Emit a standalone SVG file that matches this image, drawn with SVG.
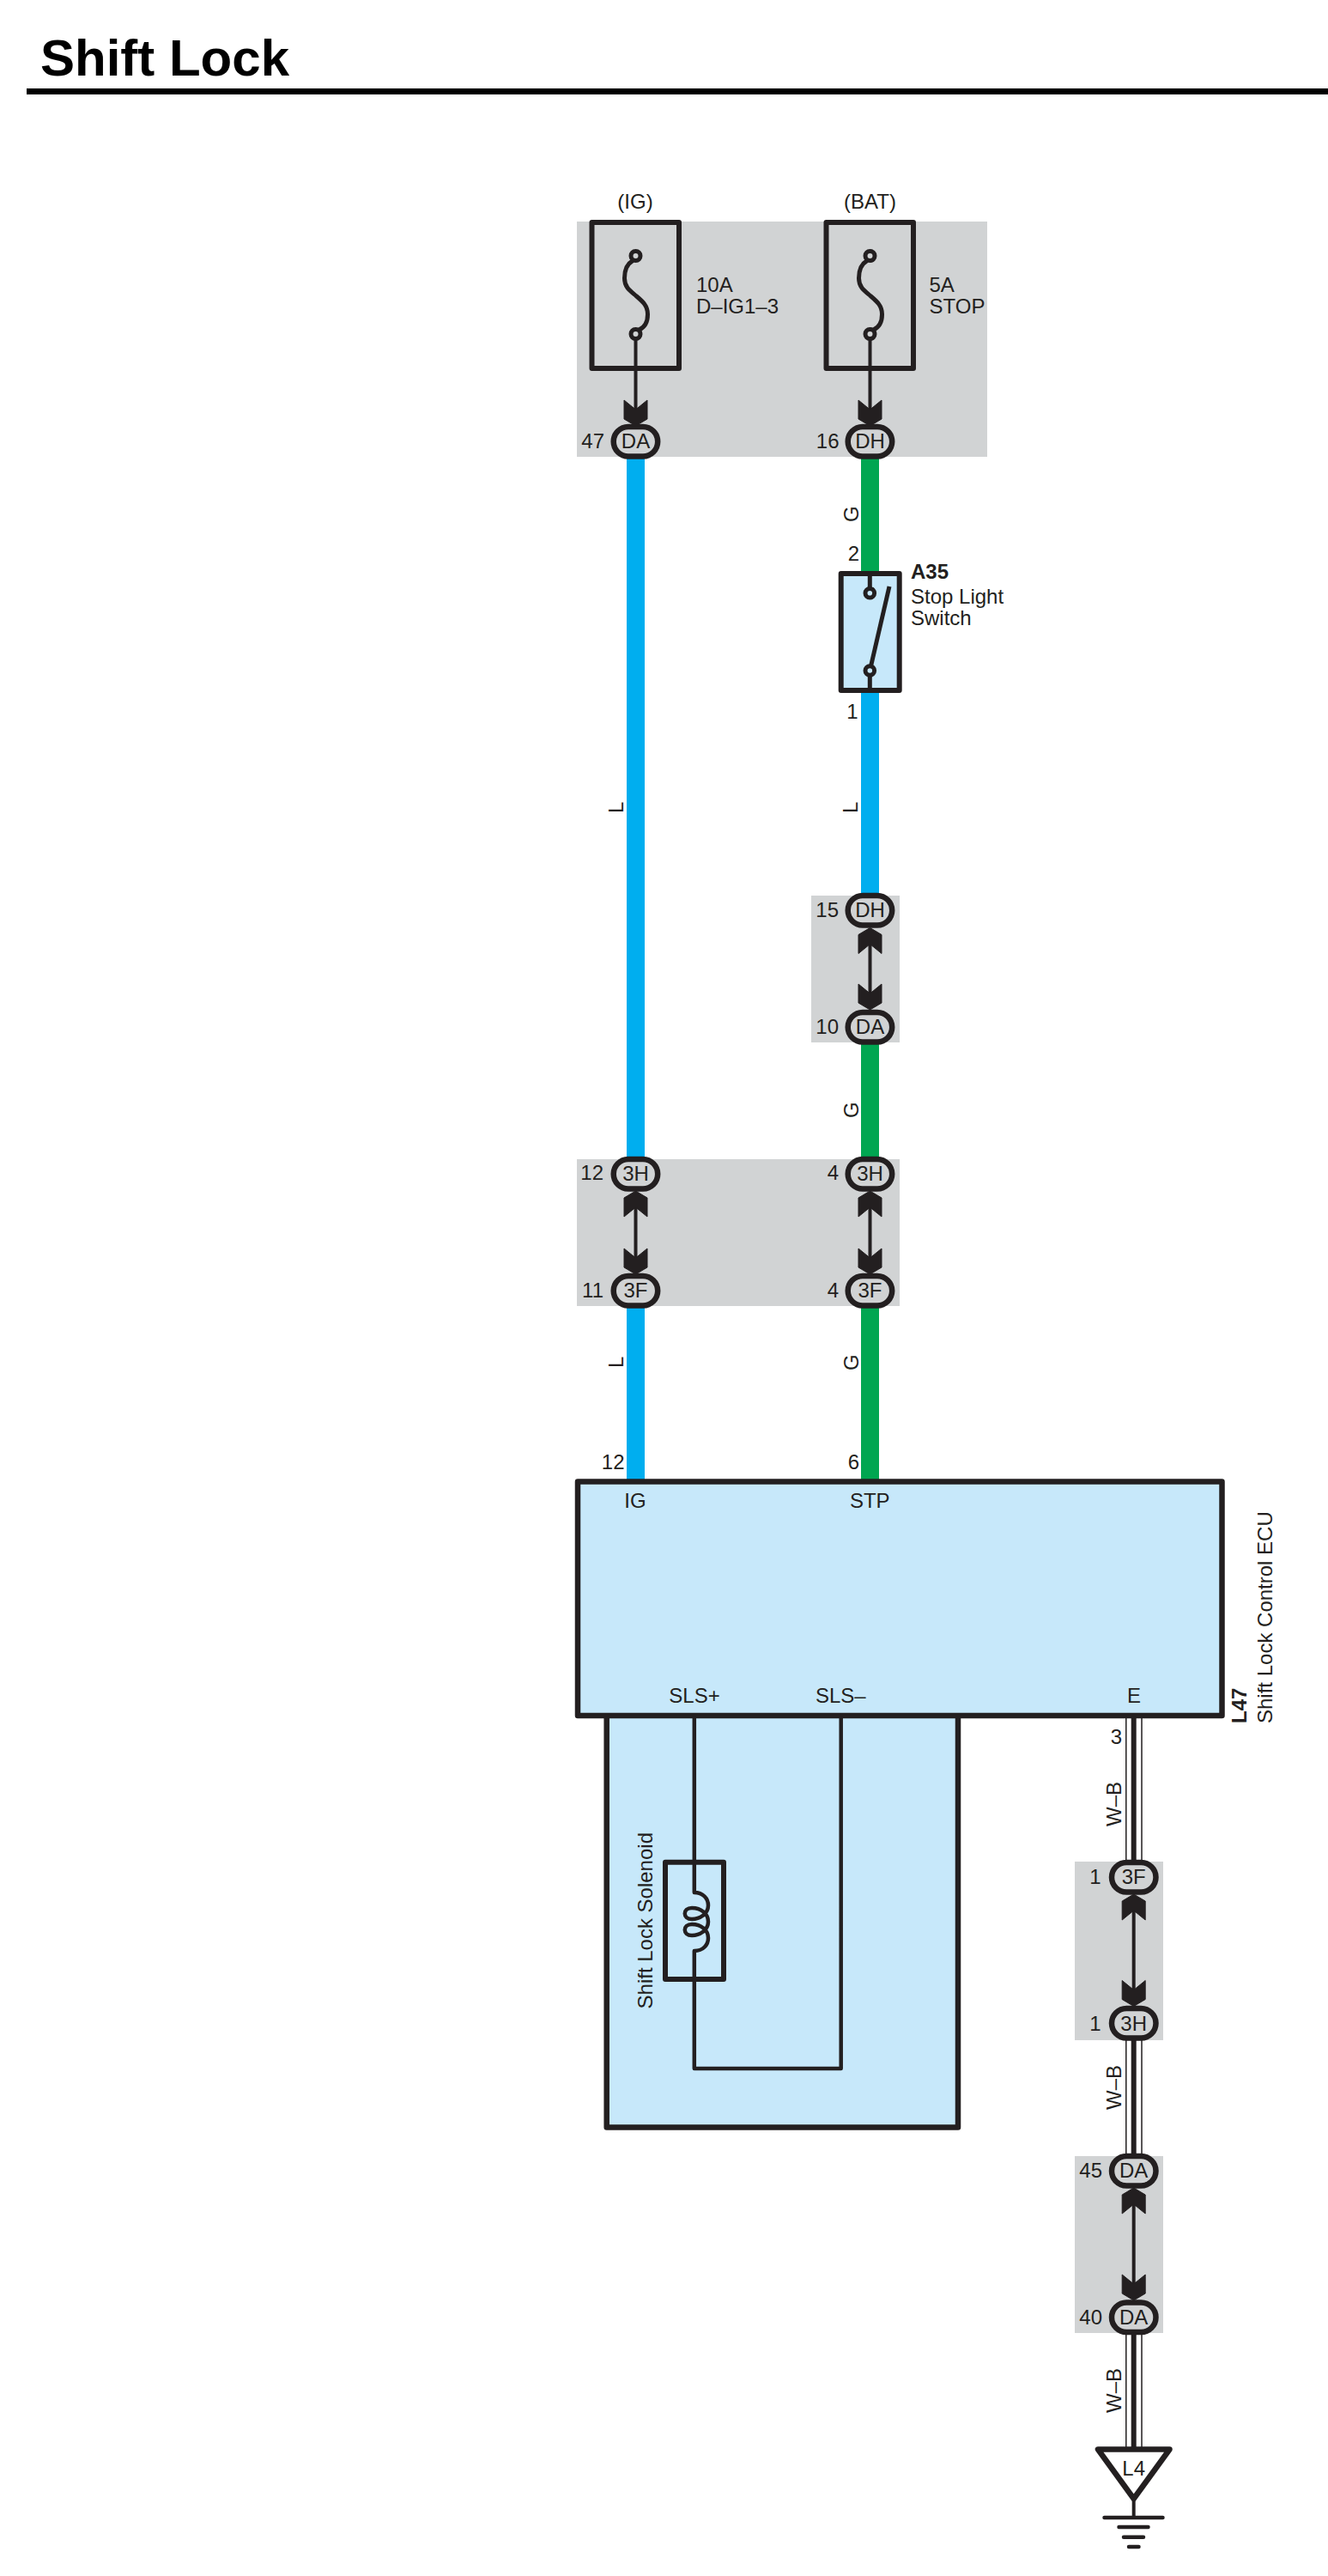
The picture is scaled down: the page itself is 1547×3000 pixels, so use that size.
<svg xmlns="http://www.w3.org/2000/svg" xmlns:xlink="http://www.w3.org/1999/xlink" width="1547" height="3000" viewBox="0 0 1547 3000">
<style>
text{font-family:"Liberation Sans",Arial,sans-serif;font-size:24px;fill:#231f20}
.m{text-anchor:middle}.e{text-anchor:end}.b{font-weight:bold}
.panel{fill:#d1d3d4}
.box{fill:none;stroke:#231f20;stroke-width:6;stroke-linejoin:round}
.lb{fill:#c7e8fa;stroke:#231f20;stroke-width:6.5;stroke-linejoin:round}
.pin{fill:#d1d3d4;stroke:#231f20;stroke-width:6.5}
.thin{fill:none;stroke:#231f20;stroke-width:4}
.mid{fill:none;stroke:#231f20;stroke-width:5;stroke-linejoin:round;stroke-linecap:round}
.L{stroke:#00aeef;stroke-width:21;fill:none}
.G{stroke:#00a651;stroke-width:21;fill:none}
.wb1{stroke:#231f20;stroke-width:1.5;fill:none}
.wb2{stroke:#231f20;stroke-width:6;fill:none}
.arw{fill:#231f20;stroke:#231f20;stroke-width:1;stroke-linejoin:round}
</style>
<defs>
<path id="ad" class="arw" d="M0,0 L-13.5,-8 L-13.5,-30 L0,-19 L13.5,-30 L13.5,-8 Z"/>
<path id="au" class="arw" d="M0,0 L-13.5,8 L-13.5,30 L0,19 L13.5,30 L13.5,8 Z"/>
<g id="fuse">
<path class="mid" d="M-4,6 C-11,10 -13,18 -13,26 C-13,37 -6,41 1,47 C8,53 14,58 14,68 C14,76 11,83 4,86"/>
<circle class="mid" cx="0" cy="0" r="5.5" style="fill:#d1d3d4"/>
<circle class="mid" cx="0" cy="91" r="5.5" style="fill:#d1d3d4"/>
</g>
</defs>
<rect width="1547" height="3000" fill="#fff"/>

<g id="title">
<text x="47" y="88" class="b" style="font-size:60px;fill:#000">Shift Lock</text>
<rect x="31" y="103" width="1516" height="7" fill="#000"/>
</g>

<g id="panels">
<rect class="panel" x="672" y="258" width="478" height="274"/>
<rect class="panel" x="945" y="1043" width="103" height="171"/>
<rect class="panel" x="672" y="1350" width="376" height="171"/>
<rect class="panel" x="1252" y="2168" width="103" height="208"/>
<rect class="panel" x="1252" y="2511" width="103" height="206"/>
</g>

<g id="connectors">
<path class="L" d="M740.5,514 V1367 M740.5,1503 V1726"/>
<path class="G" d="M1013.5,514 V668 M1013.5,1196 V1367 M1013.5,1503 V1726"/>
<path class="L" d="M1013.5,804 V1060"/>
<path class="thin" d="M740.5,389 V480 M1013.5,389 V480 M740.5,1395 V1475 M1013.5,1395 V1475 M1013.5,1088 V1168 M1320.7,2214 V2328 M1320.7,2556 V2670"/>
<path class="wb1" d="M1311.8,2001 V2168 M1330,2001 V2168 M1311.8,2376 V2510 M1330,2376 V2510 M1311.8,2717 V2850 M1330,2717 V2850"/>
<path class="wb2" d="M1320.7,2001 V2168 M1320.7,2376 V2510 M1320.7,2717 V2850"/>
<use xlink:href="#ad" href="#ad" x="740.5" y="496"/>
<use xlink:href="#ad" href="#ad" x="1013.5" y="496"/>
<use xlink:href="#au" href="#au" x="1013.5" y="1080.5"/>
<use xlink:href="#ad" href="#ad" x="1013.5" y="1176"/>
<use xlink:href="#au" href="#au" x="740.5" y="1387"/>
<use xlink:href="#ad" href="#ad" x="740.5" y="1484"/>
<use xlink:href="#au" href="#au" x="1013.5" y="1387"/>
<use xlink:href="#ad" href="#ad" x="1013.5" y="1484"/>
<use xlink:href="#au" href="#au" x="1320.7" y="2206"/>
<use xlink:href="#ad" href="#ad" x="1320.7" y="2336.5"/>
<use xlink:href="#au" href="#au" x="1320.7" y="2548"/>
<use xlink:href="#ad" href="#ad" x="1320.7" y="2679"/>
</g>

<g id="fuse-ig">
<text x="740" y="243" class="m">(IG)</text>
<rect class="box" x="689.5" y="259" width="101.5" height="170"/>
<use xlink:href="#fuse" href="#fuse" x="740.5" y="298"/>
<text x="811" y="340">10A</text>
<text x="811" y="365">D–IG1–3</text>
</g>
<g id="fuse-bat">
<text x="1013.5" y="243" class="m">(BAT)</text>
<rect class="box" x="962.5" y="259" width="101.5" height="170"/>
<use xlink:href="#fuse" href="#fuse" x="1013.5" y="298"/>
<text x="1082.5" y="340">5A</text>
<text x="1082.5" y="365">STOP</text>
</g>

<g id="conn-47-DA"><text x="704" y="522" class="e">47</text><rect class="pin" x="714.7" y="497" width="51.5" height="34.5" rx="17.25"/><text x="740.5" y="522" class="m">DA</text></g>
<g id="conn-16-DH"><text x="977.5" y="522" class="e">16</text><rect class="pin" x="987.7" y="497" width="51.5" height="34.5" rx="17.25"/><text x="1013.5" y="522" class="m">DH</text></g>
<g id="conn-15-DH"><text x="977" y="1067.5" class="e">15</text><rect class="pin" x="987.7" y="1043" width="51.5" height="34.5" rx="17.25"/><text x="1013.5" y="1068" class="m">DH</text></g>
<g id="conn-10-DA"><text x="977" y="1203.5" class="e">10</text><rect class="pin" x="987.7" y="1179" width="51.5" height="34.5" rx="17.25"/><text x="1013.5" y="1204" class="m">DA</text></g>
<g id="conn-12-3H"><text x="703" y="1374" class="e">12</text><rect class="pin" x="714.7" y="1350" width="51.5" height="34.5" rx="17.25"/><text x="740.5" y="1375" class="m">3H</text></g>
<g id="conn-11-3F"><text x="703" y="1511" class="e">11</text><rect class="pin" x="714.7" y="1486" width="51.5" height="34.5" rx="17.25"/><text x="740.5" y="1511" class="m">3F</text></g>
<g id="conn-4-3H"><text x="977" y="1374" class="e">4</text><rect class="pin" x="987.7" y="1350" width="51.5" height="34.5" rx="17.25"/><text x="1013.5" y="1375" class="m">3H</text></g>
<g id="conn-4-3F"><text x="977" y="1511" class="e">4</text><rect class="pin" x="987.7" y="1486" width="51.5" height="34.5" rx="17.25"/><text x="1013.5" y="1511" class="m">3F</text></g>
<g id="conn-1-3F"><text x="1282.5" y="2193.5" class="e">1</text><rect class="pin" x="1295" y="2169" width="51.5" height="34.5" rx="17.25"/><text x="1320.7" y="2194" class="m">3F</text></g>
<g id="conn-1-3H"><text x="1282.5" y="2365" class="e">1</text><rect class="pin" x="1295" y="2339" width="51.5" height="34.5" rx="17.25"/><text x="1320.7" y="2364.5" class="m">3H</text></g>
<g id="conn-45-DA"><text x="1284" y="2536" class="e">45</text><rect class="pin" x="1295" y="2511" width="51.5" height="34.5" rx="17.25"/><text x="1320.7" y="2536" class="m">DA</text></g>
<g id="conn-40-DA"><text x="1284" y="2707" class="e">40</text><rect class="pin" x="1295" y="2681.5" width="51.5" height="34.5" rx="17.25"/><text x="1320.7" y="2707" class="m">DA</text></g>

<g id="switch-A35">
<text x="1001" y="653" class="e">2</text>
<text x="999.5" y="837" class="e">1</text>
<rect class="lb" x="979.7" y="668" width="68" height="136" style="stroke-width:6"/>
<path class="mid" d="M1013.3,668 V685 M1013.3,786 V804" style="stroke-linecap:butt"/>
<path class="mid" d="M1013.3,781 L1036,683" style="stroke-linecap:butt"/>
<circle class="mid" cx="1013.3" cy="690.7" r="5.3" style="fill:#c7e8fa"/>
<circle class="mid" cx="1013.3" cy="781" r="5.3" style="fill:#c7e8fa"/>
<text x="1061" y="674" class="b">A35</text>
<text x="1061" y="703">Stop Light</text>
<text x="1061" y="728">Switch</text>
</g>

<g id="wire-labels">
<text transform="translate(726,947) rotate(-90)">L</text>
<text transform="translate(726,1593) rotate(-90)">L</text>
<text transform="translate(999.5,608) rotate(-90)">G</text>
<text transform="translate(999.5,1302) rotate(-90)">G</text>
<text transform="translate(999.5,1596) rotate(-90)">G</text>
<text transform="translate(999,947) rotate(-90)">L</text>
<text x="727.5" y="1711" class="e">12</text>
<text x="1001" y="1711" class="e">6</text>
<text x="1307" y="2031" class="e">3</text>
<text transform="translate(1306,2101) rotate(-90)" class="m">W–B</text>
<text transform="translate(1306,2431) rotate(-90)" class="m">W–B</text>
<text transform="translate(1306,2784) rotate(-90)" class="m">W–B</text>
</g>

<g id="solenoid">
<rect class="lb" x="706.7" y="1900" width="409.3" height="577.5"/>
<path class="mid" d="M808.8,2000 V2204 C819,2204 825,2211 825,2219 C825,2229 815,2235 806,2235 C795,2235 795,2222 806,2222 C817,2222 825,2229 825,2238 C825,2248 815,2254 806,2254 C795,2254 795,2241 806,2241 C817,2241 825,2248 825,2257 C825,2265 819,2272 808.8,2272 V2409 H979.7 V2000" style="stroke-linecap:butt;stroke-width:4.5"/>
<rect class="box" x="775" y="2168.7" width="68" height="136.3"/>
<text transform="translate(760,2134) rotate(-90)" class="e">Shift Lock Solenoid</text>
</g>

<g id="ecu-L47">
<rect class="lb" x="673" y="1725.5" width="750.5" height="272.5"/>
<text x="740" y="1756" class="m">IG</text>
<text x="1013.3" y="1756" class="m">STP</text>
<text x="809" y="1983" class="m">SLS+</text>
<text x="979.3" y="1983" class="m">SLS–</text>
<text x="1321" y="1983" class="m">E</text>
<text transform="translate(1452,2007) rotate(-90)" class="b">L47</text>
<text transform="translate(1482,2007) rotate(-90)">Shift Lock Control ECU</text>
</g>

<g id="ground-L4">
<path d="M1279,2852.5 H1362.5 L1320.7,2910 Z" fill="#fff" stroke="#231f20" stroke-width="6.5" stroke-linejoin="round"/>
<text x="1320.7" y="2883" class="m">L4</text>
<path d="M1320.7,2912 V2932" stroke="#231f20" stroke-width="4" fill="none"/>
<path d="M1286.5,2932 H1354.5 M1303.5,2943 H1337.5 M1309,2954.7 H1332 M1315,2966 H1326.5" stroke="#231f20" stroke-width="4.5" stroke-linecap="round" fill="none"/>
</g>
</svg>
